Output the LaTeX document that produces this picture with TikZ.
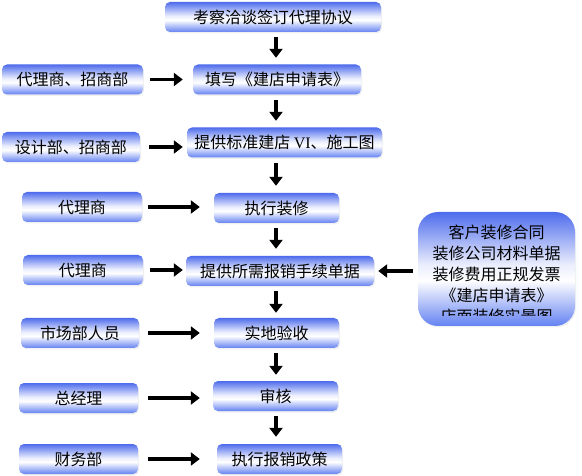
\documentclass[tikz,border=0pt]{standalone}
\usepackage{fontspec}
\newfontfamily\cjk{Noto Sans CJK SC}
\newfontfamily\latinserif{Liberation Serif}
\usepackage{tikz}
\usetikzlibrary{arrows.meta, shadows}

\definecolor{topblue}{RGB}{78,108,236}
\definecolor{botblue}{RGB}{100,130,242}
\pgfdeclareverticalshading{stepshade}{100bp}{color(0bp)=(botblue); color(25bp)=(botblue); color(45bp)=(white); color(52bp)=(white!88!topblue); color(75bp)=(topblue); color(100bp)=(topblue)}

\begin{document}
\begin{tikzpicture}[x=1pt, y=-1pt,
        stepbox/.style={rectangle, rounded corners=5pt, shading=stepshade, inner sep=0pt, minimum height=30pt,
            drop shadow={opacity=0.12, shadow xshift=1pt, shadow yshift=-1.5pt},
            font=\cjk\fontsize{16pt}{21pt}\selectfont},
        flow/.style={-{Triangle[length=9pt, width=13pt]}, line width=3.5pt}]
        \useasboundingbox (0,0) rectangle (582,476);
        % main column
        \node[stepbox, minimum width=216pt] (s1) at (273,17) {考察洽谈签订代理协议};
        \node[stepbox, minimum width=168pt] (s2) at (277,79.5) {填写《建店申请表》};
        \node[stepbox, minimum width=195pt] (s3) at (284.5,142.5) {提供标准建店 {\latinserif VI}、施工图};
        \node[stepbox, minimum width=125pt] (s4) at (276.5,208) {执行装修};
        \node[stepbox, minimum width=188pt] (s5) at (280,271) {提供所需报销手续单据};
        \node[stepbox, minimum width=125pt] (s6) at (276.5,333) {实地验收};
        \node[stepbox, minimum width=125pt] (s7) at (275.5,396) {审核};
        \node[stepbox, minimum width=125pt] (s8) at (279.5,459) {执行报销政策};
        \coordinate (axis) at (276,0);
        
        % who does it
        \node[stepbox, minimum width=141pt] (d2) at (72.5,79.5) {代理商、招商部};
        \node[stepbox, minimum width=138pt] (d3) at (71,147) {设计部、招商部};
        \node[stepbox, minimum width=120pt] (d4) at (82,207) {代理商};
        \node[stepbox, minimum width=120pt] (d5) at (83,270) {代理商};
        \node[stepbox, minimum width=118pt] (d6) at (80,333) {市场部人员};
        \node[stepbox, minimum width=119pt] (d7) at (78.5,398) {总经理};
        \node[stepbox, minimum width=119pt] (d8) at (78.5,459) {财务部};
        
        % documents
        \node[stepbox, rounded corners=20pt, minimum width=157pt, minimum height=114pt] (docs) at (496.5,269) {};
        \begin{scope}
            \clip (docs.north west) rectangle ([yshift=10.5pt]docs.south east);
            \node[align=center, inner sep=0pt, font=\cjk\fontsize{16pt}{21pt}\selectfont] (docstext) at (496.5,274)
                {客户装修合同\\装修公司材料单据\\装修费用正规发票\\《建店申请表》\\店面装修实景图};
        \end{scope}
        
        \path[flow, shorten <=5pt, shorten >=6.5pt]  (s1.south -| axis) edge (s2.north -| axis);
        \path[flow, shorten <=5pt, shorten >=6.5pt]  (s2.south -| axis) edge (s3.north -| axis);
        \path[flow, shorten <=5pt, shorten >=7pt]  (s3.south -| axis) edge (s4.north -| axis);
        \path[flow, shorten <=5pt, shorten >=7pt]  (s4.south -| axis) edge (s5.north -| axis);
        \path[flow, shorten <=5pt, shorten >=5pt]  (s5.south -| axis) edge (s6.north -| axis);
        \path[flow, shorten <=5pt, shorten >=6pt]  (s6.south -| axis) edge (s7.north -| axis);
        \path[flow, shorten <=5pt, shorten >=7pt]  (s7.south -| axis) edge (s8.north -| axis);
        
        \path[flow, shorten <=7pt, shorten >=10pt]  (d2.east) edge (d2.east -| s2.west);
        \path[flow, shorten <=9pt, shorten >=4pt]  (d3.east) edge (d3.east -| s3.west);
        \path[flow, shorten <=6pt, shorten >=14pt]  (d4.east) edge (d4.east -| s4.west);
        \path[flow, shorten <=7pt, shorten >=3pt]  (d5.east) edge (d5.east -| s5.west);
        \path[flow, shorten <=9pt, shorten >=14pt]  (d6.east) edge (d6.east -| s6.west);
        \path[flow, shorten <=10pt, shorten >=13pt]  (d7.east) edge (d7.east -| s7.west);
        \path[flow, shorten <=10pt, shorten >=17pt]  (d8.east) edge (d8.east -| s8.west);
        \path[flow, shorten <=5pt, shorten >=4pt]  (docs.west |- s5.east) edge (s5.east);
    \end{tikzpicture}
\end{document}
